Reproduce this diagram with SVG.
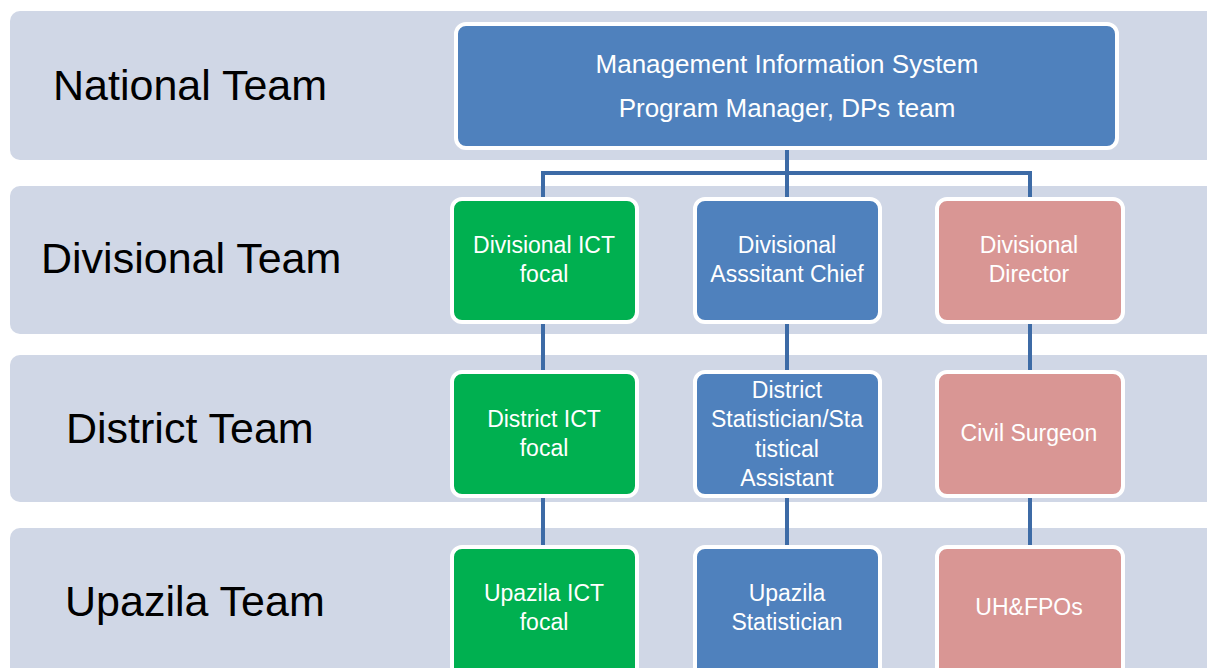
<svg xmlns="http://www.w3.org/2000/svg" width="1207" height="668" viewBox="0 0 1207 668">
  <style>
    .band { fill: #d0d7e6; }
    .lvl { font-family: "Liberation Sans", Arial, sans-serif; font-size: 43px; fill: #000; }
    .box { stroke: #ffffff; stroke-width: 4; }
    .green { fill: #00b050; }
    .blue { fill: #4f81bd; }
    .pink { fill: #d99694; }
    .t { font-family: "Liberation Sans", Arial, sans-serif; font-size: 23px; fill: #ffffff; text-anchor: middle; }
    .tt { font-family: "Liberation Sans", Arial, sans-serif; font-size: 26px; fill: #ffffff; text-anchor: middle; }
    .conn { stroke: #3d6ba6; stroke-width: 4; fill: none; }
  </style>

  <rect width="1207" height="668" fill="#ffffff"/>

  <!-- level bands -->
  <g id="bands">
    <rect class="band" x="10" y="11" width="1220" height="149" rx="10"/>
    <rect class="band" x="10" y="186" width="1220" height="148" rx="10"/>
    <rect class="band" x="10" y="355" width="1220" height="147" rx="10"/>
    <rect class="band" x="10" y="528" width="1220" height="160" rx="10"/>
  </g>

  <!-- level labels -->
  <g id="labels">
    <text class="lvl" x="53" y="100">National Team</text>
    <text class="lvl" x="41" y="273">Divisional Team</text>
    <text class="lvl" x="66" y="443">District Team</text>
    <text class="lvl" x="65" y="616">Upazila Team</text>
  </g>

  <!-- connectors -->
  <g id="connectors">
    <path class="conn" d="M787 148 V173 M543 173 H1030 M543 171 V200 M787 173 V200 M1030 171 V200"/>
    <path class="conn" d="M543 322 V373 M787 322 V373 M1030 322 V373"/>
    <path class="conn" d="M543 496 V548 M787 496 V548 M1030 496 V548"/>
  </g>

  <g id="mis">
    <rect class="box blue" x="456" y="24" width="661" height="124" rx="10"/>
    <text class="tt" x="787" y="73">Management Information System</text>
    <text class="tt" x="787" y="117">Program Manager, DPs team</text>
  </g>

  <g id="div-ict">
    <rect class="box green" x="452" y="199" width="185" height="123" rx="10"/>
    <text class="t" x="544" y="253">Divisional ICT</text>
    <text class="t" x="544" y="282">focal</text>
  </g>
  <g id="div-ac">
    <rect class="box blue" x="695" y="199" width="185" height="123" rx="10"/>
    <text class="t" x="787" y="253">Divisional</text>
    <text class="t" x="787" y="282">Asssitant Chief</text>
  </g>
  <g id="div-dir">
    <rect class="box pink" x="937" y="199" width="186" height="123" rx="10"/>
    <text class="t" x="1029" y="253">Divisional</text>
    <text class="t" x="1029" y="282">Director</text>
  </g>

  <g id="dist-ict">
    <rect class="box green" x="452" y="372" width="185" height="124" rx="10"/>
    <text class="t" x="544" y="427">District ICT</text>
    <text class="t" x="544" y="456">focal</text>
  </g>
  <g id="dist-stat">
    <rect class="box blue" x="695" y="372" width="185" height="124" rx="10"/>
    <text class="t" x="787" y="398">District</text>
    <text class="t" x="787" y="427">Statistician/Sta</text>
    <text class="t" x="787" y="457">tistical</text>
    <text class="t" x="787" y="486">Assistant</text>
  </g>
  <g id="civil-surgeon">
    <rect class="box pink" x="937" y="372" width="186" height="124" rx="10"/>
    <text class="t" x="1029" y="441">Civil Surgeon</text>
  </g>

  <g id="upz-ict">
    <rect class="box green" x="452" y="547" width="185" height="130" rx="10"/>
    <text class="t" x="544" y="601">Upazila ICT</text>
    <text class="t" x="544" y="630">focal</text>
  </g>
  <g id="upz-stat">
    <rect class="box blue" x="695" y="547" width="185" height="130" rx="10"/>
    <text class="t" x="787" y="601">Upazila</text>
    <text class="t" x="787" y="630">Statistician</text>
  </g>
  <g id="uhfpo">
    <rect class="box pink" x="937" y="547" width="186" height="130" rx="10"/>
    <text class="t" x="1029" y="615">UH&amp;FPOs</text>
  </g>
</svg>
